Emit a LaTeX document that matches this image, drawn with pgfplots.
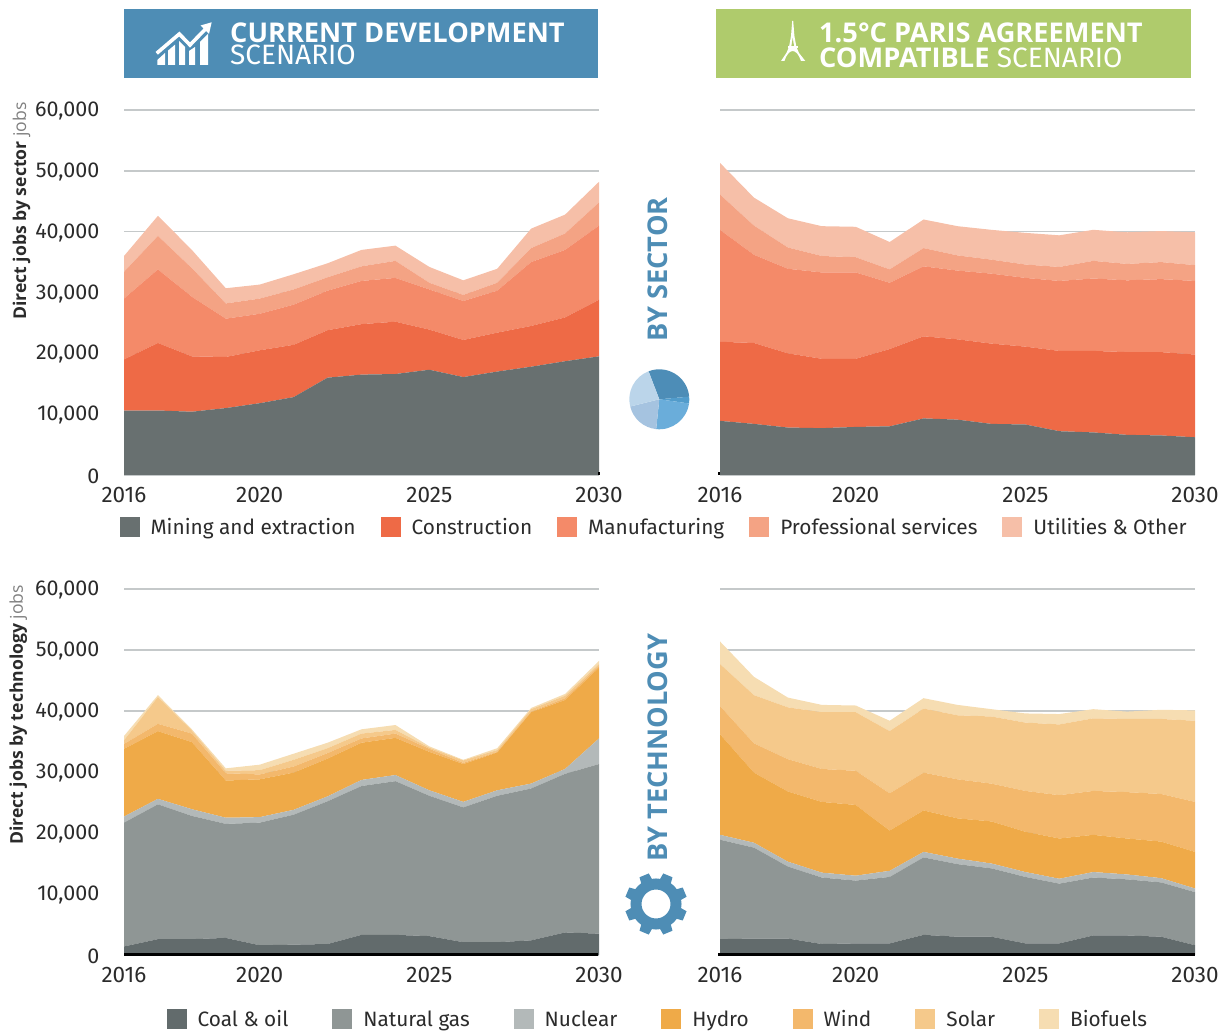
\documentclass[border=0pt]{standalone}
\usepackage{pgfplots}
\pgfplotsset{compat=1.18}
\usepackage{pgfplotstable}
\usepackage{fontspec}
\setmainfont{Fira Sans}
\newfontfamily\hdrfont{Open Sans}
\definecolor{cMining}{HTML}{687070}
\definecolor{cConstr}{HTML}{EE6A46}
\definecolor{cManuf}{HTML}{F48A69}
\definecolor{cProf}{HTML}{F4A384}
\definecolor{cUtil}{HTML}{F6BFA8}
\definecolor{cCoal}{HTML}{626B6C}
\definecolor{cGas}{HTML}{8F9695}
\definecolor{cNuc}{HTML}{B3B9B9}
\definecolor{cHydro}{HTML}{EFAA48}
\definecolor{cWind}{HTML}{F3B86C}
\definecolor{cSolar}{HTML}{F5C98B}
\definecolor{cBio}{HTML}{F6DDB2}
\definecolor{hdrBlue}{HTML}{4E8DB5}
\definecolor{hdrGreen}{HTML}{AFCB6C}
\definecolor{gridc}{HTML}{C5C9CA}
\definecolor{txt}{HTML}{2B2B2B}
\definecolor{pieA}{HTML}{4D8DB7}
\definecolor{pieB}{HTML}{529CCB}
\definecolor{pieC}{HTML}{6AADDA}
\definecolor{pieD}{HTML}{A5C3E0}
\definecolor{pieE}{HTML}{BBD5EA}

% sector tables, current development / 1.5C
\pgfplotstableread{
year mining constr manuf prof util
2016 10600 8400 10000 4400 2600
2017 10600 11100 12100 5500 3300
2018 10400 9100 9800 4700 3000
2019 11000 8400 6300 2500 2500
2020 11800 8700 6000 2500 2300
2021 12800 8600 6600 2500 2500
2022 16000 7800 6500 2200 2300
2023 16500 8300 7100 2400 2700
2024 16600 8600 7200 2800 2500
2025 17300 6600 6600 1100 2600
2026 16100 6100 6400 1000 2400
2027 17000 6400 6900 1300 2300
2028 17800 6700 10500 2300 3200
2029 18700 7200 11100 2700 3100
2030 19500 9300 12200 3800 3400
}\secCur
\pgfplotstableread{
year mining constr manuf prof util
2016 8900 13000 18400 5800 5200
2017 8400 13300 14500 4800 4600
2018 7800 12200 13900 3500 4800
2019 7700 11400 14200 2700 4900
2020 7900 11200 14200 2500 5000
2021 8000 12700 10900 2200 4500
2022 9300 13500 11500 3000 4700
2023 9100 13200 11300 2500 4800
2024 8400 13200 11500 2300 4900
2025 8300 12800 11300 2200 5200
2026 7200 13200 11500 2300 5200
2027 7000 13400 11900 2900 5100
2028 6600 13600 11800 2700 5200
2029 6500 13700 12000 2800 5100
2030 6200 13600 12100 2600 5400
}\secPar
% technology tables
\pgfplotstableread{
year coal gas nuc hydro wind solar bio
2016 1400 20300 1000 11100 800 600 700
2017 2600 22100 900 11100 1200 4400 300
2018 2600 20200 1100 11000 1400 500 200
2019 2800 18700 1000 6100 1200 400 400
2020 1600 20100 900 6200 800 700 900
2021 1700 21300 800 6100 1000 1100 1000
2022 1800 23400 800 6200 900 800 900
2023 3300 24400 1000 6100 700 800 700
2024 3300 25200 1000 6100 700 600 800
2025 3100 23000 900 6300 500 200 200
2026 2100 22100 900 6200 200 400 100
2027 2100 24000 900 6200 100 300 300
2028 2400 24900 800 11700 100 400 200
2029 3700 26000 800 11300 300 400 300
2030 3500 27800 4200 11600 300 300 500
}\tecCur
\pgfplotstableread{
year coal gas nuc hydro wind solar bio
2016 2600 16300 800 16500 4600 6900 3700
2017 2700 14900 800 11500 4800 7900 3000
2018 2700 11800 800 11500 5300 8500 1600
2019 1800 10900 800 11600 5400 9300 1200
2020 1900 10300 800 11600 5600 9600 1100
2021 1900 10900 1000 6600 6100 10200 1700
2022 3300 12700 900 6800 6200 10500 1700
2023 3000 11900 900 6600 6400 10500 1700
2024 3000 11200 800 6900 6200 11000 1200
2025 1900 10900 800 6600 6700 11200 1500
2026 1900 9800 800 6600 7100 11600 1700
2027 3200 9500 900 6100 7200 11900 1500
2028 3200 9200 800 5900 7600 12000 1200
2029 3000 8900 700 6000 7800 12300 1500
2030 1600 8700 600 6000 8200 13300 1700
}\tecPar

\pgfplotsset{
  panel/.style={
    anchor=south west, scale only axis, width=475pt,
    xmin=2016, xmax=2030, ymin=0, ymax=60000,
    stack plots=y, no markers,
    axis lines=left, axis line style={-},
    x axis line style={draw=none},
    y axis line style={draw=none},
    major tick style={draw=none},
    xtick={2016,2020,2025,2030},
    ytick={0,10000,20000,30000,40000,50000,60000},
    ymajorgrids, grid style={gridc, line width=1.5pt},
    tick label style={text=txt},
    /pgf/number format/assume math mode=true,
    x tick label style={font=\fontsize{22.5}{22.5}\selectfont, /pgf/number format/1000 sep={}, yshift=-7pt},
    y tick label style={font=\fontsize{21.5}{21.5}\selectfont, /pgf/number format/1000 sep={,}, xshift=-19pt, yshift=-1pt},
    scaled y ticks=false,
    legend cell align=left,
    legend image code/.code={\fill[##1] (0pt,-10pt) rectangle (20pt,10pt);},
  },
  band/.style={fill=#1, draw=none},
  nolabels/.style={yticklabels={}},
}

\begin{document}
\begin{tikzpicture}[x=1pt,y=1pt]
\useasboundingbox (0,0) rectangle (1225,1030);

% ---- top row: by sector
\begin{axis}[panel, at={(124pt,555pt)}, height=365pt,
  legend columns=-1,
  legend style={at={(1.116,-0.142)}, anchor=center, draw=none, fill=none, inner sep=0pt,
    font=\fontsize{20.8}{20.8}\selectfont, text=txt,
    /tikz/every odd column/.append style={column sep=9pt},
    /tikz/every even column/.append style={column sep=23pt}},
]
  \addplot[band=cMining] table[x=year,y=mining] {\secCur} \closedcycle;
  \addplot[band=cConstr] table[x=year,y=constr] {\secCur} \closedcycle;
  \addplot[band=cManuf] table[x=year,y=manuf] {\secCur} \closedcycle;
  \addplot[band=cProf] table[x=year,y=prof] {\secCur} \closedcycle;
  \addplot[band=cUtil] table[x=year,y=util] {\secCur} \closedcycle;
  \legend{Mining and extraction,Construction,Manufacturing,Professional services,Utilities \& Other}
\end{axis}
\begin{axis}[panel, nolabels, at={(720pt,555pt)}, height=365pt]
  \addplot[band=cMining] table[x=year,y=mining] {\secPar} \closedcycle;
  \addplot[band=cConstr] table[x=year,y=constr] {\secPar} \closedcycle;
  \addplot[band=cManuf] table[x=year,y=manuf] {\secPar} \closedcycle;
  \addplot[band=cProf] table[x=year,y=prof] {\secPar} \closedcycle;
  \addplot[band=cUtil] table[x=year,y=util] {\secPar} \closedcycle;
\end{axis}

% ---- bottom row: by technology
\begin{axis}[panel, at={(124pt,75pt)}, height=366pt,
  legend columns=-1,
  legend style={at={(1.124,-0.176)}, anchor=center, draw=none, fill=none, inner sep=0pt,
    font=\fontsize{20.8}{20.8}\selectfont, text=txt,
    /tikz/every odd column/.append style={column sep=9pt},
    /tikz/every even column/.append style={column sep=42pt}},
]
  \addplot[band=cCoal] table[x=year,y=coal] {\tecCur} \closedcycle;
  \addplot[band=cGas] table[x=year,y=gas] {\tecCur} \closedcycle;
  \addplot[band=cNuc] table[x=year,y=nuc] {\tecCur} \closedcycle;
  \addplot[band=cHydro] table[x=year,y=hydro] {\tecCur} \closedcycle;
  \addplot[band=cWind] table[x=year,y=wind] {\tecCur} \closedcycle;
  \addplot[band=cSolar] table[x=year,y=solar] {\tecCur} \closedcycle;
  \addplot[band=cBio] table[x=year,y=bio] {\tecCur} \closedcycle;
  \legend{Coal \& oil,Natural gas,Nuclear,Hydro,Wind,Solar,Biofuels}
\end{axis}
\begin{axis}[panel, nolabels, at={(720pt,75pt)}, height=366pt]
  \addplot[band=cCoal] table[x=year,y=coal] {\tecPar} \closedcycle;
  \addplot[band=cGas] table[x=year,y=gas] {\tecPar} \closedcycle;
  \addplot[band=cNuc] table[x=year,y=nuc] {\tecPar} \closedcycle;
  \addplot[band=cHydro] table[x=year,y=hydro] {\tecPar} \closedcycle;
  \addplot[band=cWind] table[x=year,y=wind] {\tecPar} \closedcycle;
  \addplot[band=cSolar] table[x=year,y=solar] {\tecPar} \closedcycle;
  \addplot[band=cBio] table[x=year,y=bio] {\tecPar} \closedcycle;
\end{axis}

% ---- pie icon
\begin{scope}[shift={(659.3,630.7)}]
  \fill[pieA] (0,0) -- (111:30) arc (111:5:30) -- cycle;
  \fill[pieB] (0,0) -- (5:30) arc (5:-8:30) -- cycle;
  \fill[pieC] (0,0) -- (-8:30) arc (-8:-96:30) -- cycle;
  \fill[pieD] (0,0) -- (-96:30) arc (-96:-166:30) -- cycle;
  \fill[pieE] (0,0) -- (-166:30) arc (-166:-249:30) -- cycle;
\end{scope}

% ---- gear icon
\begin{scope}[shift={(656,126)}]
  \foreach \a in {22.5,67.5,...,337.5}
    \fill[hdrBlue, rotate=\a] (19,-6.5) -- (31,-5) -- (31,5) -- (19,6.5) -- cycle;
  \draw[hdrBlue, line width=11pt] (0,0) circle (20);
\end{scope}

% ---- everything else in image pixel coordinates
\begin{scope}[yshift=1030pt, y=-1pt]
  % axis baselines
  \draw[black, line width=3pt] (124,955) -- (598,955);
  \draw[black, line width=3pt] (718,955) -- (1195,955);
  \fill[black] (598,472.5) rectangle (600,475);
  \fill[black] (717.5,472.5) rectangle (720,475);
  % headers
  \fill[hdrBlue] (124,9) rectangle (598,78);
  \fill[hdrGreen] (716,9) rectangle (1191,78);
  \node[anchor=base west, inner sep=0, text=white, font=\hdrfont\fontsize{27.2}{27.2}\selectfont\bfseries] at (230,43) {CURRENT DEVELOPMENT};
  \node[anchor=base west, inner sep=0, text=white, font=\fontsize{28}{28}\selectfont] at (230,65) {SCENARIO};
  \node[anchor=base west, inner sep=0, text=white, font=\hdrfont\fontsize{27.2}{27.2}\selectfont\bfseries] at (819,43) {1.5°C PARIS AGREEMENT};
  \node[anchor=base west, inner sep=0, text=white, font=\fontsize{28}{28}\selectfont] at (819,68) {{\hdrfont\fontsize{27.2}{27.2}\selectfont\bfseries COMPATIBLE} SCENARIO};
  % chart icon
  \fill[white] (157.3,65) -- (157.3,60) -- (165,53) -- (165,65) -- cycle;
  \fill[white] (168,65) -- (168,50.6) -- (175,44.7) -- (175,65) -- cycle;
  \fill[white] (179,65) -- (179,41) -- (185,47) -- (185,65) -- cycle;
  \fill[white] (189,65) -- (189,51) -- (195,47) -- (195,65) -- cycle;
  \fill[white] (200,65) -- (200,42) -- (208,34) -- (208,65) -- cycle;
  \draw[white, line width=3.6pt] (156.7,53.3) -- (179.3,34) -- (190,45) -- (206,28.5);
  \fill[white] (211.7,22.3) -- (200.5,25.5) -- (209,34) -- cycle;
  % Eiffel tower
  \fill[white] (792.2,21) -- (793.2,21) -- (794.4,36) -- (796.4,47) -- (799,53) -- (805.3,61) -- (801,61)
     .. controls (799,55) and (796,51) .. (792.7,51)
     .. controls (789.4,51) and (786.4,55) .. (784.4,61) -- (781,61) -- (786.4,53) -- (789,47) -- (791,36) -- cycle;
  \fill[hdrGreen] (792.7,38) -- (791.4,46) -- (794,46) -- cycle;
  \fill[white] (787.5,46.5) rectangle (798,48);
  % side captions
  \node[rotate=90, anchor=base west, inner sep=0, text=hdrBlue, font=\hdrfont\fontsize{27.2}{27.2}\selectfont\bfseries] at (667,342) {BY SECTOR};
  \node[rotate=90, anchor=base west, inner sep=0, text=hdrBlue, font=\hdrfont\fontsize{27.2}{27.2}\selectfont\bfseries] at (667,862) {BY TECHNOLOGY};
  \node[rotate=90, anchor=base west, inner sep=0, text=txt, font=\hdrfont\fontsize{17.6}{17.6}\selectfont] at (26,320) {\textbf{Direct jobs by sector} \textcolor{gray}{jobs}};
  \node[rotate=90, anchor=base west, inner sep=0, text=txt, font=\hdrfont\fontsize{17.6}{17.6}\selectfont] at (23,845) {\textbf{Direct jobs by technology} \textcolor{gray}{jobs}};
\end{scope}
\end{tikzpicture}
\end{document}
